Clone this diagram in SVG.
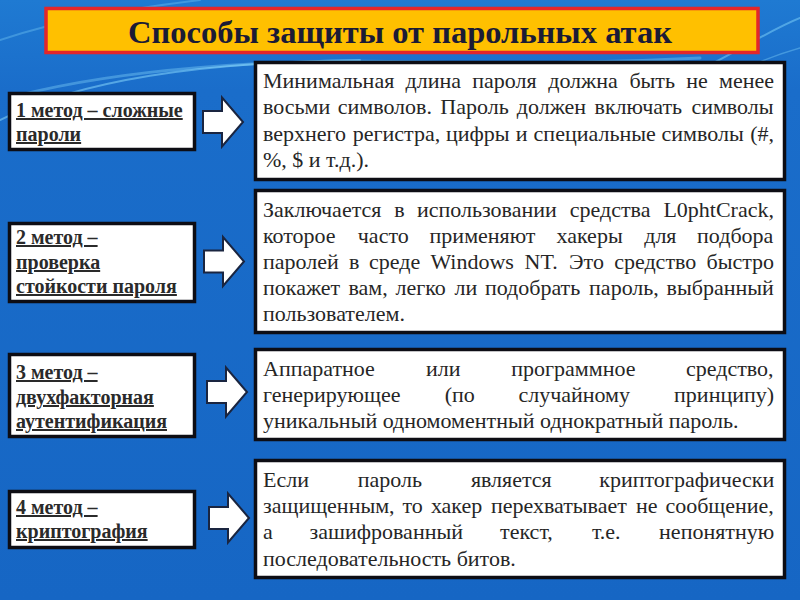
<svg xmlns="http://www.w3.org/2000/svg" width="800" height="600" viewBox="0 0 800 600">
<style>
.bg{fill:url(#bgGrad)}
.box{fill:#ffffff;stroke:#0d0d14;stroke-width:3.5}
.ltext{font-family:"Liberation Serif","Times New Roman",serif;font-weight:bold;font-size:20px;fill:#2a2a2a;text-decoration:underline}
.rtext{font-family:"Liberation Serif","Times New Roman",serif;font-size:22px;fill:#262626}
.arrow{fill:#ffffff;stroke:#1a2540;stroke-width:2;stroke-linejoin:miter}
.title{font-family:"Liberation Serif","Times New Roman",serif;font-weight:bold;font-size:32px;fill:#1b1b35}
.swoosh{fill:none;stroke:#8fe0ff;stroke-linecap:round}
</style>
<defs>
<linearGradient id="bgGrad" x1="0" y1="0" x2="0" y2="1">
<stop offset="0" stop-color="#1f7ad2"/>
<stop offset="0.15" stop-color="#1a6dca"/>
<stop offset="1" stop-color="#1666c4"/>
</linearGradient>
<path id="arr" d="M0,-11 H19 V-24.5 L40,0 L19,24.5 V11 H0 Z"/>
</defs>
<rect class="bg" x="0" y="0" width="800" height="600"/>
<g id="background-swooshes">
<path class="swoosh" d="M0,120 C80,80 200,62 360,60" stroke-width="2" opacity="0.5"/>
<path class="swoosh" d="M20,95 C120,70 260,58 420,62 C520,64 620,62 700,58" stroke-width="3" opacity="0.35"/>
<path class="swoosh" d="M0,40 C60,20 120,10 200,0" stroke-width="2" opacity="0.3"/>
<path class="swoosh" d="M700,70 C740,50 770,30 800,18" stroke-width="2" opacity="0.45"/>
<path class="swoosh" d="M720,80 C750,65 775,55 800,48" stroke-width="1.5" opacity="0.35"/>
</g>
<g id="title">
<rect x="46" y="8.5" width="712" height="44" fill="#ffc000" stroke="#e3262a" stroke-width="3.5"/>
<text class="title" x="400" y="43" text-anchor="middle" textLength="544" lengthAdjust="spacingAndGlyphs">Способы защиты от парольных атак</text>
</g>
<g id="method1">
<rect class="box" x="9.5" y="93.5" width="185" height="56"/>
<text class="ltext"><tspan x="16" y="117">1 метод – сложные</tspan><tspan x="16" y="141">пароли</tspan></text>
</g>
<g id="method2">
<rect class="box" x="9.5" y="223.5" width="185" height="78"/>
<text class="ltext"><tspan x="16" y="244">2 метод –</tspan><tspan x="16" y="269">проверка</tspan><tspan x="16" y="293">стойкости пароля</tspan></text>
</g>
<g id="method3">
<rect class="box" x="9.5" y="354.5" width="185" height="82"/>
<text class="ltext"><tspan x="16" y="379">3 метод –</tspan><tspan x="16" y="404">двухфакторная</tspan><tspan x="16" y="428">аутентификация</tspan></text>
</g>
<g id="method4">
<rect class="box" x="9.5" y="491.5" width="185" height="56"/>
<text class="ltext"><tspan x="16" y="514">4 метод –</tspan><tspan x="16" y="538">криптография</tspan></text>
</g>
<g id="desc1">
<rect class="box" x="255.5" y="62.5" width="529" height="117"/>
<text class="rtext" y="88"><tspan x="263">Минимальная</tspan><tspan x="405.5">длина</tspan><tspan x="472.3">пароля</tspan><tspan x="548.2">должна</tspan><tspan x="629.4">быть</tspan><tspan x="686.3">не</tspan><tspan x="719.1">менее</tspan></text>
<text class="rtext" y="114"><tspan x="263">восьми</tspan><tspan x="337.7">символов.</tspan><tspan x="440.3">Пароль</tspan><tspan x="516.8">должен</tspan><tspan x="594.5">включать</tspan><tspan x="691.4">символы</tspan></text>
<text class="rtext" y="141"><tspan x="263">верхнего</tspan><tspan x="352.8">регистра,</tspan><tspan x="446">цифры</tspan><tspan x="515.7">и</tspan><tspan x="533.6">специальные</tspan><tspan x="661.5">символы</tspan><tspan x="750.2">(#,</tspan></text>
<text class="rtext" x="263" y="167">%, $ и т.д.).</text>
</g>
<g id="desc2">
<rect class="box" x="255.5" y="190.5" width="529" height="142"/>
<text class="rtext" y="217"><tspan x="263">Заключается</tspan><tspan x="394.3">в</tspan><tspan x="417">использовании</tspan><tspan x="569.8">средства</tspan><tspan x="663.4">L0phtCrack,</tspan></text>
<text class="rtext" y="243"><tspan x="263">которое</tspan><tspan x="357.8">часто</tspan><tspan x="429.6">применяют</tspan><tspan x="556.5">хакеры</tspan><tspan x="644.2">для</tspan><tspan x="697.1">подбора</tspan></text>
<text class="rtext" y="269"><tspan x="263">паролей</tspan><tspan x="348.9">в</tspan><tspan x="369.1">среде</tspan><tspan x="430.4">Windows</tspan><tspan x="524.5">NT.</tspan><tspan x="569.1">Это</tspan><tspan x="614.2">средство</tspan><tspan x="706.5">быстро</tspan></text>
<text class="rtext" y="295"><tspan x="263">покажет</tspan><tspan x="348.4">вам,</tspan><tspan x="395.5">легко</tspan><tspan x="454.6">ли</tspan><tspan x="484.9">подобрать</tspan><tspan x="589.1">пароль,</tspan><tspan x="666.6">выбранный</tspan></text>
<text class="rtext" x="263" y="321">пользователем.</text>
</g>
<g id="desc3">
<rect class="box" x="255.5" y="349.5" width="529" height="90"/>
<text class="rtext" y="376"><tspan x="263">Аппаратное</tspan><tspan x="425.9">или</tspan><tspan x="511.3">программное</tspan><tspan x="686">средство,</tspan></text>
<text class="rtext" y="402"><tspan x="263">генерирующее</tspan><tspan x="444.7">(по</tspan><tspan x="518.4">случайному</tspan><tspan x="674.1">принципу)</tspan></text>
<text class="rtext" x="263" y="428">уникальный одномоментный однократный пароль.</text>
</g>
<g id="desc4">
<rect class="box" x="255.5" y="460.5" width="529" height="117"/>
<text class="rtext" y="487"><tspan x="263">Если</tspan><tspan x="357.7">пароль</tspan><tspan x="470.9">является</tspan><tspan x="599.3">криптографически</tspan></text>
<text class="rtext" y="513"><tspan x="263">защищенным,</tspan><tspan x="402.4">то</tspan><tspan x="430.9">хакер</tspan><tspan x="490.9">перехватывает</tspan><tspan x="636.1">не</tspan><tspan x="665.4">сообщение,</tspan></text>
<text class="rtext" y="539"><tspan x="263">а</tspan><tspan x="309.6">зашифрованный</tspan><tspan x="500.1">текст,</tspan><tspan x="591.9">т.е.</tspan><tspan x="659.1">непонятную</tspan></text>
<text class="rtext" x="263" y="566">последовательность битов.</text>
</g>
<g id="connectors">
<use href="#arr" class="arrow" x="203" y="122"/>
<use href="#arr" class="arrow" x="204" y="261.5"/>
<use href="#arr" class="arrow" x="207" y="392"/>
<use href="#arr" class="arrow" x="209" y="518"/>
</g>
</svg>
